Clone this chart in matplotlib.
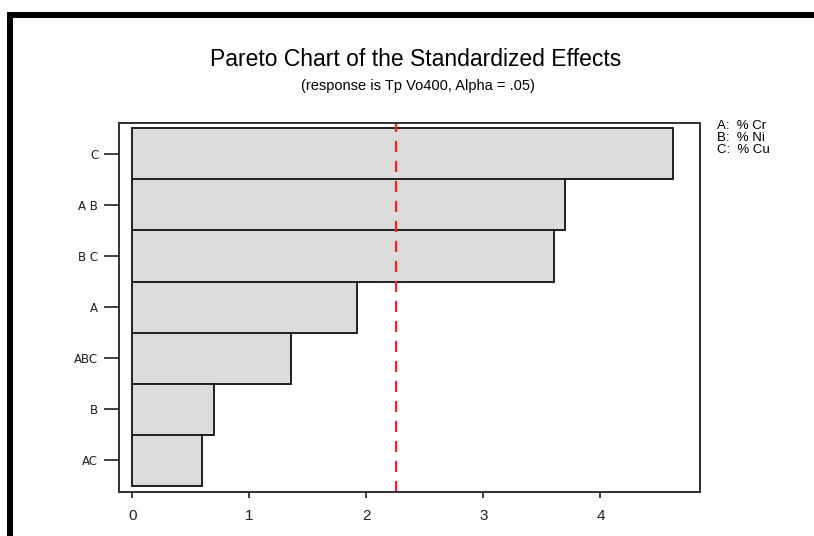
import matplotlib
matplotlib.use("Agg")
import matplotlib.pyplot as plt
from matplotlib.patches import Rectangle

# effects, sorted as in the chart (largest on top)
terms = ["C", "A B", "B C", "A", "ABC", "B", "AC"]
effects = [4.62, 3.70, 3.60, 1.92, 1.36, 0.70, 0.60]
crit = 2.25          # reference line (Alpha = .05)
xticks = [0, 1, 2, 3, 4]
factors = ["A:  % Cr", "B:  % Ni", "C:  % Cu"]

plt.rcParams['font.family'] = ['Liberation Sans', 'DejaVu Sans']

fig = plt.figure(figsize=(8.14, 5.36), dpi=100)
fig.patch.set_facecolor("white")

# thick black frame on top and left (screenshot border)
fig.add_artist(Rectangle((7/814, 0), 6/814, 1 - 12/536, transform=fig.transFigure,
                         facecolor="black", edgecolor="none"))
fig.add_artist(Rectangle((7/814, 1 - 18/536), 1, 6/536, transform=fig.transFigure,
                         facecolor="black", edgecolor="none"))

ax = fig.add_axes([119/814, 43.7/536, 581/814, 369/536])

ypos = list(range(len(terms)))
ax.barh(ypos, effects, height=1.0, left=0, color="#dcdcdc",
        edgecolor="#202020", linewidth=1.4)
ax.axvline(crit, color="#ff2020", linestyle=(0, (5, 4)), linewidth=1.6)

ax.set_ylim(len(terms) - 0.5 + 0.13, -0.5 - 0.1)
ax.set_xlim(-0.113, 4.85)
ax.set_yticks(ypos)
ax.set_yticklabels(terms, fontsize=8.5, family='DejaVu Sans')
ax.set_xticks(xticks)
ax.set_xticklabels([str(t) for t in xticks], fontsize=11)
ax.tick_params(axis="y", length=11, width=1.2, pad=4, colors="#202020")
ax.tick_params(axis="x", length=4, width=1.2, pad=8, colors="#202020")
for s in ax.spines.values():
    s.set_linewidth(1.4)
    s.set_color("#303030")

fig.text(416/814, 1 - 60/536, "Pareto Chart of the Standardized Effects",
         ha="center", va="center", fontsize=16.5)
fig.text(418/814, 1 - 86/536, "(response is Tp Vo400, Alpha = .05)",
         ha="center", va="center", fontsize=10.5)
fig.text(717/814, 1 - 120/536, "\n".join(factors), ha="left", va="top",
         fontsize=9.5, linespacing=1.0)

fig.savefig("out.png", dpi=100)
